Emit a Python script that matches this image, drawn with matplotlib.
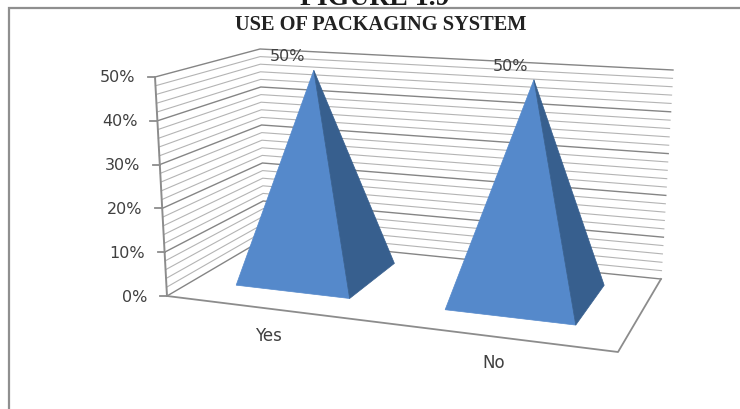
import numpy as np
import matplotlib
matplotlib.use('Agg')
import matplotlib.pyplot as plt
from matplotlib.patches import Polygon

categories = ['Yes', 'No']
values = [50, 50]
value_labels = ['50%', '50%']
major_ticks = [0, 10, 20, 30, 40, 50]
tick_labels = ['0%', '10%', '20%', '30%', '40%', '50%']
minor_step = 2
title = 'USE OF PACKAGING SYSTEM'
heading = 'FIGURE 1.9'

W, H = 740, 409
fig = plt.figure(figsize=(W / 100, H / 100), dpi=100)
ax = fig.add_axes([0, 0, 1, 1])
ax.set_xlim(0, W)
ax.set_ylim(H, 0)
ax.axis('off')


def homography(src, dst):
    A, b = [], []
    for (x, y), (u, v) in zip(src, dst):
        A.append([x, y, 1, 0, 0, 0, -u * x, -u * y]); b.append(u)
        A.append([0, 0, 0, x, y, 1, -v * x, -v * y]); b.append(v)
    return np.append(np.linalg.solve(np.array(A, float), np.array(b, float)), 1).reshape(3, 3)


# box: x in [0, n categories], depth d in [0, 1], value in [0, 50]
n = len(categories)
unit = [(0, 0), (n, 0), (n, 1), (0, 1)]
floor_q = [(167, 296), (618, 352), (661, 279), (264, 239)]
top_q = [(155, 77), (635, 115), (673, 70), (260, 49)]
Hf, Ht = homography(unit, floor_q), homography(unit, top_q)
vmax = max(major_ticks)


def project(x, d, v):
    p = np.array([x, d, 1.0])
    a, b = Hf @ p, Ht @ p
    a, b = a[:2] / a[2], b[:2] / b[2]
    return a + (b - a) * (v / vmax)


GRID = '#b4b4b4'
GRID_M = '#858585'
AXIS = '#8c8c8c'

# frame of the page scan and clipped heading
ax.plot([8.5, 8.5, W], [H, 7.5, 7.5], color='#8f8f8f', lw=1.6, solid_joinstyle='miter', zorder=5)
ax.text(375, 5, heading, ha='center', va='baseline', fontsize=20, fontweight='bold',
        family='Liberation Serif', color='#1a1a1a', zorder=4)
ax.text(380.5, 25, title, ha='center', va='center', fontsize=14.7, fontweight='bold',
        family='Liberation Serif', color='#222222')

# gridlines on walls
for v in np.arange(0, vmax + minor_step, minor_step):
    major = v in major_ticks
    c, lw = (GRID_M, 1.0) if major else (GRID, 0.8)
    pts = [project(0, 0, v), project(0, 1, v), project(n, 1, v)]
    ax.plot(*zip(*pts), color=c, lw=lw, zorder=1, solid_joinstyle='miter')

# floor outline
pts = [project(0, 0, 0), project(n, 0, 0), project(n, 1, 0)]
ax.plot(*zip(*pts), color=AXIS, lw=1.3, zorder=1.5)

# value axis and ticks
ax.plot(*zip(project(0, 0, 0), project(0, 0, vmax)), color=AXIS, lw=1.4, zorder=2)
for v, lab in zip(major_ticks, tick_labels):
    p = project(0, 0, v)
    ax.plot([p[0] - 7, p[0]], [p[1], p[1]], color=AXIS, lw=1.3, zorder=2)
    ax.text(p[0] - 20, p[1] + 1, lab, ha='right', va='center', fontsize=11.5, color='#404040')

# pyramids
half, d0, d1 = 0.28, 0.25, 0.82
FRONT, SIDE = '#5589cb', '#375f8e'
apex_nudge = [(11, 4), (14, 0)]
offsets = [(-26, -14), (-23, -13)]
for i, (cat, val, lab) in enumerate(zip(categories, values, value_labels)):
    xc = i + 0.5
    fl = project(xc - half, d0, 0)
    fr = project(xc + half, d0, 0)
    br = project(xc + half, d1, 0)
    apex = project(xc, (d0 + d1) / 2, val) + np.array(apex_nudge[i])
    ax.add_patch(Polygon([fl, fr, apex], closed=True, fc=FRONT, ec=FRONT, lw=0.5, zorder=3))
    ax.add_patch(Polygon([fr, br, apex], closed=True, fc=SIDE, ec=SIDE, lw=0.5, zorder=3))
    ax.text(apex[0] + offsets[i][0], apex[1] + offsets[i][1], lab, ha='center', va='center',
            fontsize=11.5, color='#404040', zorder=4)
    q = project(xc, 0, 0)
    ax.text(q[0] + 1, q[1] + 27, cat, ha='center', va='center', fontsize=12, color='#404040')

fig.savefig('out.png', dpi=100)
